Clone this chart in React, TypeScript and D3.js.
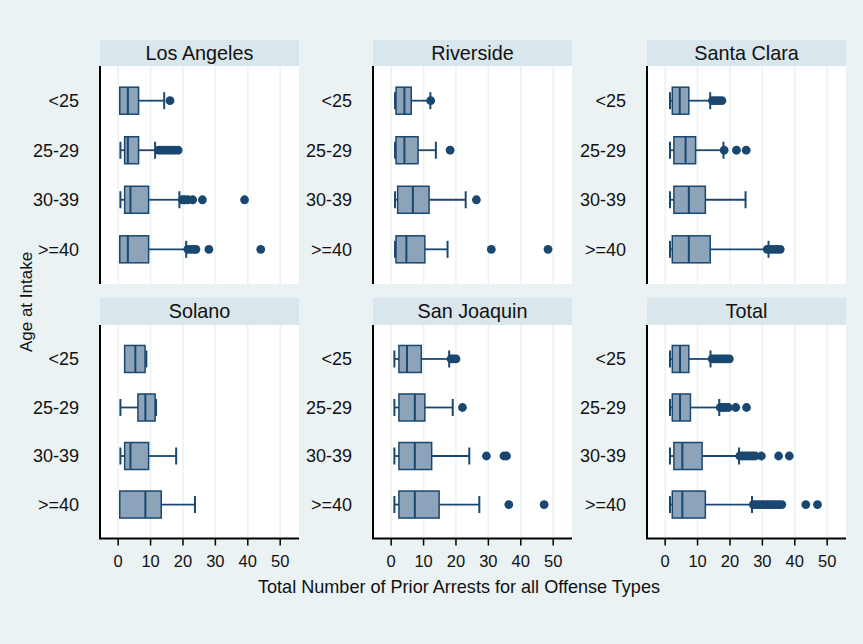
import React from 'react';
import * as d3 from 'd3';

const ageGroups = ['<25', '25-29', '30-39', '>=40'];
const xTicks = [0, 10, 20, 30, 40, 50];
const xTitle = 'Total Number of Prior Arrests for all Offense Types';
const yTitle = 'Age at Intake';

type Box = { lo: number; q1: number; med: number; q3: number; hi: number; out: number[] };

const losAngeles: Box[] = [
  { lo: 0.5, q1: 0.5, med: 3, q3: 6.3, hi: 14.2, out: [16] },
  { lo: 0.7, q1: 2, med: 3, q3: 6.3, hi: 11.4, out: [12.5, 13.5, 14.5, 15.5, 16.5, 17.5, 18.5] },
  { lo: 0.7, q1: 2, med: 3.8, q3: 9.4, hi: 18.9, out: [19.8, 20.5, 21.5, 23, 26, 39] },
  { lo: 0.5, q1: 0.5, med: 3, q3: 9.4, hi: 21, out: [21.5, 22.5, 23.5, 24, 28, 44] },
];
const riverside: Box[] = [
  { lo: 1.2, q1: 1.5, med: 4.1, q3: 6.2, hi: 12.1, out: [12.2] },
  { lo: 1.2, q1: 1.5, med: 4.1, q3: 8.3, hi: 13.8, out: [18.2] },
  { lo: 1.2, q1: 2, med: 6.7, q3: 11.7, hi: 23, out: [26.3] },
  { lo: 1.2, q1: 1.5, med: 4.7, q3: 10.4, hi: 17.4, out: [30.9, 48.4] },
];
const santaClara: Box[] = [
  { lo: 1.5, q1: 2.2, med: 4.5, q3: 7.3, hi: 13.9, out: [14.6, 15.5, 16.5, 17.5] },
  { lo: 1.5, q1: 2.7, med: 6.3, q3: 9.4, hi: 18, out: [18.2, 22, 25] },
  { lo: 1.5, q1: 2.7, med: 7.3, q3: 12.4, hi: 24.8, out: [] },
  { lo: 1.5, q1: 2.2, med: 7.3, q3: 13.9, hi: 31.9, out: [31.5, 32.5, 33.5, 34.5, 35.5] },
];
const solano: Box[] = [
  { lo: 2, q1: 2, med: 5.3, q3: 8.3, hi: 8.7, out: [] },
  { lo: 0.7, q1: 6.1, med: 8.4, q3: 11.4, hi: 11.7, out: [] },
  { lo: 0.7, q1: 2, med: 3.8, q3: 9.4, hi: 17.9, out: [] },
  { lo: 0.5, q1: 0.5, med: 8.4, q3: 13.3, hi: 23.7, out: [] },
];
const sanJoaquin: Box[] = [
  { lo: 1, q1: 2.4, med: 4.9, q3: 9.3, hi: 17.9, out: [18.5, 19.2, 20] },
  { lo: 1, q1: 2.4, med: 7.3, q3: 10.4, hi: 19, out: [22] },
  { lo: 1, q1: 2.4, med: 7.3, q3: 12.5, hi: 24.1, out: [29.4, 34.8, 35.6] },
  { lo: 1, q1: 2.4, med: 7.3, q3: 14.8, hi: 27.2, out: [36.3, 47.2] },
];
const total: Box[] = [
  { lo: 1.5, q1: 2.2, med: 4.6, q3: 7.3, hi: 14, out: [14.5, 15.2, 16, 16.8, 17.5, 18.3, 19, 19.8] },
  { lo: 1.5, q1: 2.2, med: 4.6, q3: 7.8, hi: 16.7, out: [17, 17.8, 18.6, 19.5, 21.8, 25.1] },
  { lo: 1.5, q1: 2.7, med: 5.3, q3: 11.4, hi: 22.8, out: [23, 23.8, 24.6, 25.4, 26.2, 27, 27.8, 29.7, 35, 38.3] },
  { lo: 1.5, q1: 2.2, med: 5.3, q3: 12.4, hi: 26.8, out: [27.2, 28, 28.8, 29.6, 30.4, 31.2, 32, 32.8, 33.6, 34.4, 35.2, 36, 43.4, 47] },
];

const panelNames = ['Los Angeles', 'Riverside', 'Santa Clara', 'Solano', 'San Joaquin', 'Total'];
const panelData = [losAngeles, riverside, santaClara, solano, sanJoaquin, total];

const W = 863;
const H = 644;
const colX = [100, 373, 647];
const panelW = 199;
const headerTop = [40, 297.5];
const plotTop = [66, 325];
const plotBottom = [284, 538.5];
const xDomain: [number, number] = [-5.6, 55.8];

const BG = '#EAF2F3';
const HEAD = '#D9E6EB';
const NAVY = '#1A476F';
const FILL = '#8DA3BA';
const FONT = 'Liberation Sans, Arial, sans-serif';

export default function App() {
  return (
    <svg width={W} height={H} style={{ position: 'absolute', left: 0, top: 0 }} fontFamily={FONT}>
      <rect x={0} y={0} width={W} height={H} fill={BG} />
      {panelNames.map((name, i) => {
        const col = i % 3;
        const row = Math.floor(i / 3);
        const x0 = colX[col];
        const x = d3.scaleLinear().domain(xDomain).range([x0, x0 + panelW]);
        const y = d3.scalePoint<string>().domain(ageGroups).range([plotTop[row], plotBottom[row]]).padding(0.7);
        const data = panelData[i];
        const bh = 27;
        const ch = 17;
        return (
          <g key={name}>
            <rect x={x0} y={headerTop[row]} width={panelW} height={plotTop[row] - headerTop[row]} fill={HEAD} />
            <text x={x0 + panelW / 2} y={(headerTop[row] + plotTop[row]) / 2 + 7} textAnchor="middle" fontSize={19.8} fill="#111">{name}</text>
            <rect x={x0} y={plotTop[row]} width={panelW} height={plotBottom[row] - plotTop[row]} fill="#fff" />
            {xTicks.map(t => (
              <line key={t} x1={x(t)} x2={x(t)} y1={plotTop[row]} y2={plotBottom[row]} stroke={BG} strokeWidth={1.5} />
            ))}
            {ageGroups.map((g, k) => {
              const b = data[k];
              const cy = y(g)!;
              return (
                <g key={g}>
                  {b.lo < b.q1 && <line x1={x(b.lo)} x2={x(b.q1)} y1={cy} y2={cy} stroke={NAVY} strokeWidth={1.8} />}
                  {b.lo < b.q1 && <line x1={x(b.lo)} x2={x(b.lo)} y1={cy - ch / 2} y2={cy + ch / 2} stroke={NAVY} strokeWidth={2} />}
                  {b.hi > b.q3 && <line x1={x(b.q3)} x2={x(b.hi)} y1={cy} y2={cy} stroke={NAVY} strokeWidth={1.8} />}
                  {b.hi > b.q3 && <line x1={x(b.hi)} x2={x(b.hi)} y1={cy - ch / 2} y2={cy + ch / 2} stroke={NAVY} strokeWidth={2} />}
                  <rect x={x(b.q1)} y={cy - bh / 2} width={x(b.q3) - x(b.q1)} height={bh} fill={FILL} stroke={NAVY} strokeWidth={1.5} />
                  <line x1={x(b.med)} x2={x(b.med)} y1={cy - bh / 2} y2={cy + bh / 2} stroke={NAVY} strokeWidth={2} />
                  {b.out.map((o, j) => (
                    <circle key={j} cx={x(o)} cy={cy} r={4.4} fill={NAVY} />
                  ))}
                  <text x={x0 - 21} y={cy + 6.3} textAnchor="end" fontSize={18} fill="#111">{g}</text>
                </g>
              );
            })}
            <line x1={x0} x2={x0} y1={plotTop[row]} y2={plotBottom[row]} stroke="#000" strokeWidth={2} />
            {row === 1 && (
              <g>
                <line x1={x0 - 1} x2={x0 + panelW} y1={plotBottom[row]} y2={plotBottom[row]} stroke="#000" strokeWidth={2} />
                {xTicks.map(t => (
                  <g key={t}>
                    <line x1={x(t)} x2={x(t)} y1={plotBottom[row]} y2={plotBottom[row] + 7} stroke="#000" strokeWidth={1.5} />
                    <text x={x(t)} y={plotBottom[row] + 28.5} textAnchor="middle" fontSize={16.5} fill="#111">{t}</text>
                  </g>
                ))}
              </g>
            )}
          </g>
        );
      })}
      <text x={459} y={593} textAnchor="middle" fontSize={18.5} textLength={402} lengthAdjust="spacingAndGlyphs" fill="#111">{xTitle}</text>
      <text transform="translate(31.5,302) rotate(-90)" textAnchor="middle" fontSize={17} fill="#111">{yTitle}</text>
    </svg>
  );
}
